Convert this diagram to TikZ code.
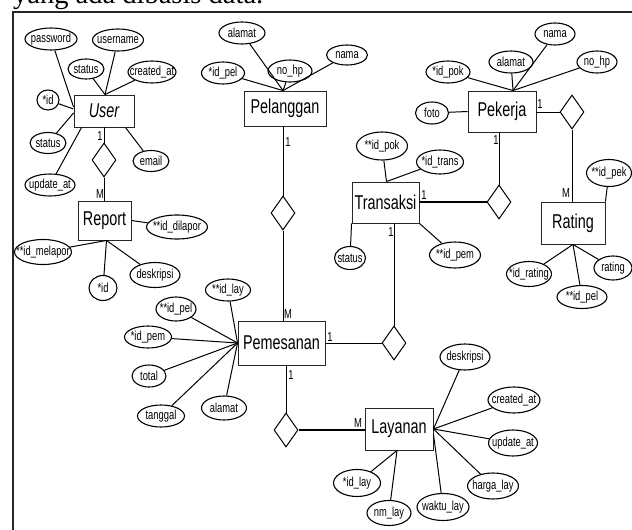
\documentclass[tikz,border=0pt]{standalone}
\usepackage{fontspec}
\setmainfont{Liberation Sans}[FakeStretch=0.72]
\newfontfamily\headfont{Liberation Serif}
\usetikzlibrary{shapes.geometric}
\newcommand\zb[1]{\makebox[0pt]{#1}}
\begin{document}
\begin{tikzpicture}[x=1pt,y=-1pt,
  ent/.style={draw=black!85, line width=0.9pt, rectangle, inner sep=0pt, font=\fontsize{20}{22}\selectfont},
  attr/.style={draw, ellipse, line width=1.1pt, inner sep=0pt, font=\fontsize{13}{14}\selectfont},
  rel/.style={draw, diamond, line width=1pt, inner sep=0pt, minimum width=24pt, minimum height=34pt},
  lnk/.style={line width=1pt},
  thk/.style={line width=1.8pt},
  card/.style={font=\fontsize{13}{14}\selectfont, inner sep=0pt}]
\useasboundingbox (0,0) rectangle (632,530);
\fill[white] (0,0) rectangle (632,530);
% header text and frame
\node[anchor=base west, inner sep=0pt, font=\headfont\fontsize{28.5}{30}\selectfont] (head) at (13,3.5) {yang ada dibasis data.};
\draw[line width=1.3pt, black!85] (13,12) rectangle (700,600);

% entities
\node[ent, minimum width=60pt, minimum height=32pt] (user) at (104,111) {\itshape User};
\node[ent, minimum width=53pt, minimum height=39pt] (report) at (104.5,220.5) {Report};
\node[ent, minimum width=82pt, minimum height=35pt] (pel) at (285,108.5) {Pelanggan};
\node[ent, minimum width=68pt, minimum height=41pt] (pek) at (502,111.5) {Pekerja};
\node[ent, minimum width=67pt, minimum height=41pt] (trans) at (385.5,202.5) {Transaksi};
\node[ent, minimum width=64pt, minimum height=42pt] (rating) at (573,223) {Rating};
\node[ent, minimum width=87pt, minimum height=44pt] (pem) at (281.5,343) {Pemesanan};
\node[ent, minimum width=68pt, minimum height=42pt] (lay) at (399,429) {Layanan};

% relationships
\node[rel] (d1) at (104,160) {};
\node[rel] (d2) at (283,213) {};
\node[rel] (d3) at (572,112) {};
\node[rel] (d4) at (499,202) {};
\node[rel] (d5) at (394,343) {};
\node[rel] (d6) at (286,430) {};

% User attributes
\node[attr, minimum width=52pt, minimum height=22pt] (pw) at (51,39) {\zb{password}};
\node[attr, minimum width=51pt, minimum height=22pt] (un) at (118,40) {\zb{username}};
\node[attr, minimum width=36pt, minimum height=20pt] (st1) at (86,69) {\zb{status}};
\node[attr, minimum width=48pt, minimum height=22pt] (cr) at (152,72) {\zb{created\_at}};
\node[attr, minimum width=22pt, minimum height=20pt] (uid) at (48,100) {\zb{*id}};
\node[attr, minimum width=36pt, minimum height=21pt] (st2) at (48,143) {\zb{status}};
\node[attr, minimum width=36pt, minimum height=21pt] (em) at (151,161) {\zb{email}};
\node[attr, minimum width=50pt, minimum height=22pt] (up) at (50,185) {\zb{update\_at}};
% Report attributes
\node[attr, minimum width=61pt, minimum height=24pt] (rdl) at (177,227) {\zb{**id\_dilapor}};
\node[attr, minimum width=57pt, minimum height=25pt] (rml) at (43,252) {\zb{**id\_melapor}};
\node[attr, minimum width=28pt, minimum height=25pt] (rid) at (103,288) {\zb{*id}};
\node[attr, minimum width=50pt, minimum height=25pt] (rds) at (155,275) {\zb{deskripsi}};
% Pelanggan attributes
\node[attr, minimum width=46pt, minimum height=22pt] (pal) at (242,33) {\zb{alamat}};
\node[attr, minimum width=43pt, minimum height=22pt] (pid) at (223,73) {\zb{*id\_pel}};
\node[attr, minimum width=44pt, minimum height=22pt] (phb) at (290,71) {\zb{no\_hp}};
\node[attr, minimum width=41pt, minimum height=20pt] (pnm) at (347,55) {\zb{nama}};
% Pekerja attributes
\node[attr, minimum width=44pt, minimum height=22pt] (kid) at (448,72) {\zb{*id\_pok}};
\node[attr, minimum width=44pt, minimum height=22pt] (kal) at (511,62) {\zb{alamat}};
\node[attr, minimum width=40pt, minimum height=22pt] (knm) at (555,34) {\zb{nama}};
\node[attr, minimum width=40pt, minimum height=22pt] (khp) at (597,62) {\zb{no\_hp}};
\node[attr, minimum width=33pt, minimum height=22pt] (kft) at (432,113) {\zb{foto}};
% Transaksi attributes
\node[attr, minimum width=51pt, minimum height=28pt] (tpk) at (382,146) {\zb{**id\_pok}};
\node[attr, minimum width=47pt, minimum height=24pt] (tid) at (440,162) {\zb{*id\_trans}};
\node[attr, minimum width=31pt, minimum height=23pt] (tst) at (350,258) {\zb{status}};
\node[attr, minimum width=51pt, minimum height=26pt] (tpm) at (455,255) {\zb{**id\_pem}};
% Rating attributes
\node[attr, minimum width=45pt, minimum height=27pt] (rpk) at (609,173) {\zb{**id\_pek}};
\node[attr, minimum width=45pt, minimum height=25pt] (rir) at (529,274) {\zb{*id\_rating}};
\node[attr, minimum width=38pt, minimum height=24pt] (rrt) at (613,268) {\zb{rating}};
\node[attr, minimum width=50pt, minimum height=23pt] (rpl) at (582,297) {\zb{**id\_pel}};
% Pemesanan attributes
\node[attr, minimum width=45pt, minimum height=22pt] (mly) at (228,290) {\zb{**id\_lay}};
\node[attr, minimum width=40pt, minimum height=24pt] (mpl) at (176,309) {\zb{**id\_pel}};
\node[attr, minimum width=47pt, minimum height=22pt] (mpm) at (148,337) {\zb{*id\_pem}};
\node[attr, minimum width=34pt, minimum height=22pt] (mtt) at (149,376) {\zb{total}};
\node[attr, minimum width=47pt, minimum height=22pt] (mtg) at (161,416) {\zb{tanggal}};
\node[attr, minimum width=45pt, minimum height=24pt] (mal) at (224,408) {\zb{alamat}};
% Layanan attributes
\node[attr, minimum width=50pt, minimum height=26pt] (lds) at (465,357) {\zb{deskripsi}};
\node[attr, minimum width=52pt, minimum height=26pt] (lcr) at (514,400) {\zb{created\_at}};
\node[attr, minimum width=49pt, minimum height=26pt] (lup) at (513,443) {\zb{update\_at}};
\node[attr, minimum width=51pt, minimum height=26pt] (lhg) at (493,486) {\zb{harga\_lay}};
\node[attr, minimum width=52pt, minimum height=27pt] (lwk) at (443,507) {\zb{waktu\_lay}};
\node[attr, minimum width=44pt, minimum height=25pt] (lnm) at (389,513) {\zb{nm\_lay}};
\node[attr, minimum width=47pt, minimum height=27pt] (lid) at (357,483) {\zb{*id\_lay}};

% attribute links
\draw[lnk] (pw) -- ([yshift=4pt]user.west);
\draw[lnk] (uid) -- ([yshift=2pt]user.west);
\draw[lnk] (st1) -- ([xshift=1pt]user.north);
\draw[lnk] (un) -- ([xshift=1pt]user.north);
\draw[lnk] (cr) -- ([xshift=1pt]user.north);
\draw[lnk] (st2) -- ([yshift=-2pt]user.west);
\draw[lnk] (up) -- ([xshift=8pt]user.south west);
\draw[lnk] (em) -- ([xshift=-9pt]user.south east);

\draw[lnk] (rdl) -- (report.east);
\draw[lnk] (rml) -- ([xshift=2pt]report.south);
\draw[lnk] (rid) -- ([xshift=2pt]report.south);
\draw[lnk] (rds) -- ([xshift=2pt]report.south);

\draw[lnk] (pal) -- ([xshift=-2pt]pel.north);
\draw[lnk] (pid) -- ([xshift=-2pt]pel.north);
\draw[lnk] (phb) -- ([xshift=-2pt]pel.north);
\draw[lnk] (pnm) -- ([xshift=-2pt]pel.north);

\draw[lnk] (kid) -- ([xshift=11pt]pek.north);
\draw[lnk] (kal) -- ([xshift=11pt]pek.north);
\draw[lnk] (knm) -- ([xshift=11pt]pek.north);
\draw[lnk] (khp) -- ([xshift=11pt]pek.north);
\draw[lnk] (kft) -- (pek.west);

\draw[lnk] (tpk) -- ([xshift=1pt]trans.north);
\draw[lnk] (tid) -- ([xshift=1pt]trans.north);
\draw[lnk] (tst) -- (trans.south west);
\draw[lnk] (tpm) -- (trans.south east);

\draw[lnk] (rpk) -- (rating.north east);
\draw[lnk] (rir) -- (rating.south);
\draw[lnk] (rrt) -- (rating.south);
\draw[lnk] (rpl) -- (rating.south);

\foreach \a in {mly,mpl,mpm,mtt,mtg,mal} \draw[lnk] (\a) -- (pem.west);

\foreach \a in {lds,lcr,lup,lhg} \draw[lnk] (\a) -- (lay.east);
\draw[lnk] (lwk) -- ([yshift=-5pt]lay.east);
\draw[lnk] (lid) -- ([xshift=-2pt]lay.south);
\draw[lnk] (lnm) -- ([xshift=-2pt]lay.south);

% relationship links
\draw[lnk] (d1.north) -- (d1.north |- user.south);
\draw[lnk] (d1.south) -- (d1.south |- report.north);
\draw[lnk] (d2.north) -- (d2.north |- pel.south);
\draw[lnk] (d2.south) -- (d2.south |- pem.north);
\draw[lnk] (pek.east |- d3.west) -- (d3.west);
\draw[lnk] (d3.south) -- (d3.south |- rating.north);
\draw[lnk] (d4.north) -- (d4.north |- pek.south);
\draw[thk] (d4.west) -- (d4.west -| trans.east);
\draw[lnk] (d5.north) -- (d5.north |- trans.south);
\draw[lnk] (d5.west) -- (d5.west -| pem.east);
\draw[lnk] (d6.north) -- (d6.north |- pem.south);
\draw[thk] (d6.east) -- (d6.east -| lay.west);

% cardinalities
\node[card] (c1) at (100,136) {1};
\node[card] (c2) at (100,194) {M};
\node[card] (c3) at (288,142) {1};
\node[card] (c4) at (288,314) {M};
\node[card] (c5) at (540,104) {1};
\node[card] (c6) at (496,140) {1};
\node[card] (c7) at (566,193) {M};
\node[card] (c8) at (424,195) {1};
\node[card] (c9) at (391,232) {1};
\node[card] (c10) at (330,337) {1};
\node[card] (c11) at (291,375) {1};
\node[card] (c12) at (358,423) {M};
\end{tikzpicture}
\end{document}
